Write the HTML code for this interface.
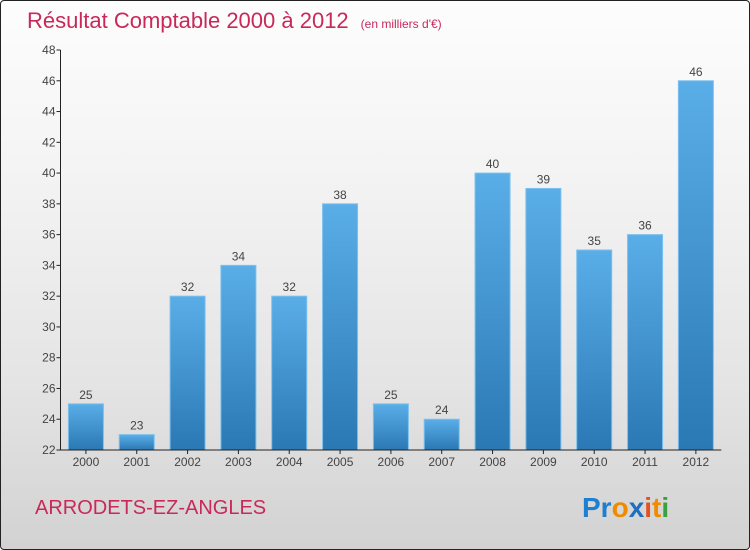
<!DOCTYPE html>
<html><head><meta charset="utf-8"><style>
body{margin:0;width:750px;height:550px;overflow:hidden;font-family:"Liberation Sans",sans-serif}
#frame{position:absolute;left:0;top:0;width:748px;height:548px;border:1px solid #222;border-radius:4px;background:linear-gradient(#fdfdfd,#f4f4f4 30%,#e4e4e4 70%,#d2d2d2)}
</style></head><body>
<div id="frame"></div>
<svg width="750" height="550" style="position:absolute;left:0;top:0">
<defs><linearGradient id="bg" x1="0" y1="0" x2="0" y2="1"><stop offset="0" stop-color="#5aaee8"/><stop offset="1" stop-color="#2a78b4"/></linearGradient></defs>
<text x="27" y="28" font-size="22" fill="#c8285a">Résultat Comptable 2000 à 2012<tspan font-size="12" dx="12">(en milliers d'€)</tspan></text>
<g id="bars"></g>
<g id="axes"></g>
<text x="35" y="514" font-size="20" fill="#c8285a">ARRODETS-EZ-ANGLES</text>
<text x="582" y="517" font-size="28" font-weight="bold"><tspan fill="#1e7fd0">Pr</tspan><tspan fill="#f08a00">o</tspan><tspan fill="#1e6fc0">x</tspan><tspan fill="#e55020">i</tspan><tspan fill="#f08a00">t</tspan><tspan fill="#3aa040">i</tspan></text>
</svg>
<script>
const categories=["2000","2001","2002","2003","2004","2005","2006","2007","2008","2009","2010","2011","2012"];
const values=[25,23,32,34,32,38,25,24,40,39,35,36,46];
const yTicks=[22,24,26,28,30,32,34,36,38,40,42,44,46,48];
const NS="http://www.w3.org/2000/svg";
const x0=60.5,band=50.83,y0=450,yMin=22,yMax=48,yTop=50;
const y=v=>y0-(v-yMin)*(y0-yTop)/(yMax-yMin);
const xc=i=>x0+band*(i+0.5);
function mk(t,a,p){const e=document.createElementNS(NS,t);for(const k in a)e.setAttribute(k,a[k]);p.appendChild(e);return e;}
const bars=document.getElementById('bars'),axes=document.getElementById('axes');
values.forEach((v,i)=>{
 const r=mk('rect',{x:xc(i)-17.5,y:y(v),width:35,height:y0-y(v),fill:'url(#bg)',stroke:'#7cc0ee','stroke-width':1},bars);
 
 
 const t=mk('text',{x:xc(i),y:y(v)-5,'text-anchor':'middle','font-size':12,fill:'#444'},bars);t.textContent=v;
 
 
 const c=mk('text',{x:xc(i),y:y0+16,'text-anchor':'middle','font-size':12,fill:'#444'},axes);c.textContent=categories[i];
 
 
 mk('line',{x1:xc(i),x2:xc(i),y1:y0,y2:y0+4,stroke:'#222'},axes);
});
yTicks.forEach(v=>{
 mk('line',{x1:x0-4,x2:x0,y1:y(v),y2:y(v),stroke:'#222'},axes);
 const t=mk('text',{x:x0-5,y:y(v)+4,'text-anchor':'end','font-size':12,fill:'#444'},axes);t.textContent=v;
 
 
});
const ya=mk('line',{x1:x0,x2:x0,y1:yTop,y2:y0,stroke:'#222'},axes);


const xa=mk('line',{x1:x0,x2:x0+band*13,y1:y0,y2:y0,stroke:'#222'},axes);


</script>
</body></html>
